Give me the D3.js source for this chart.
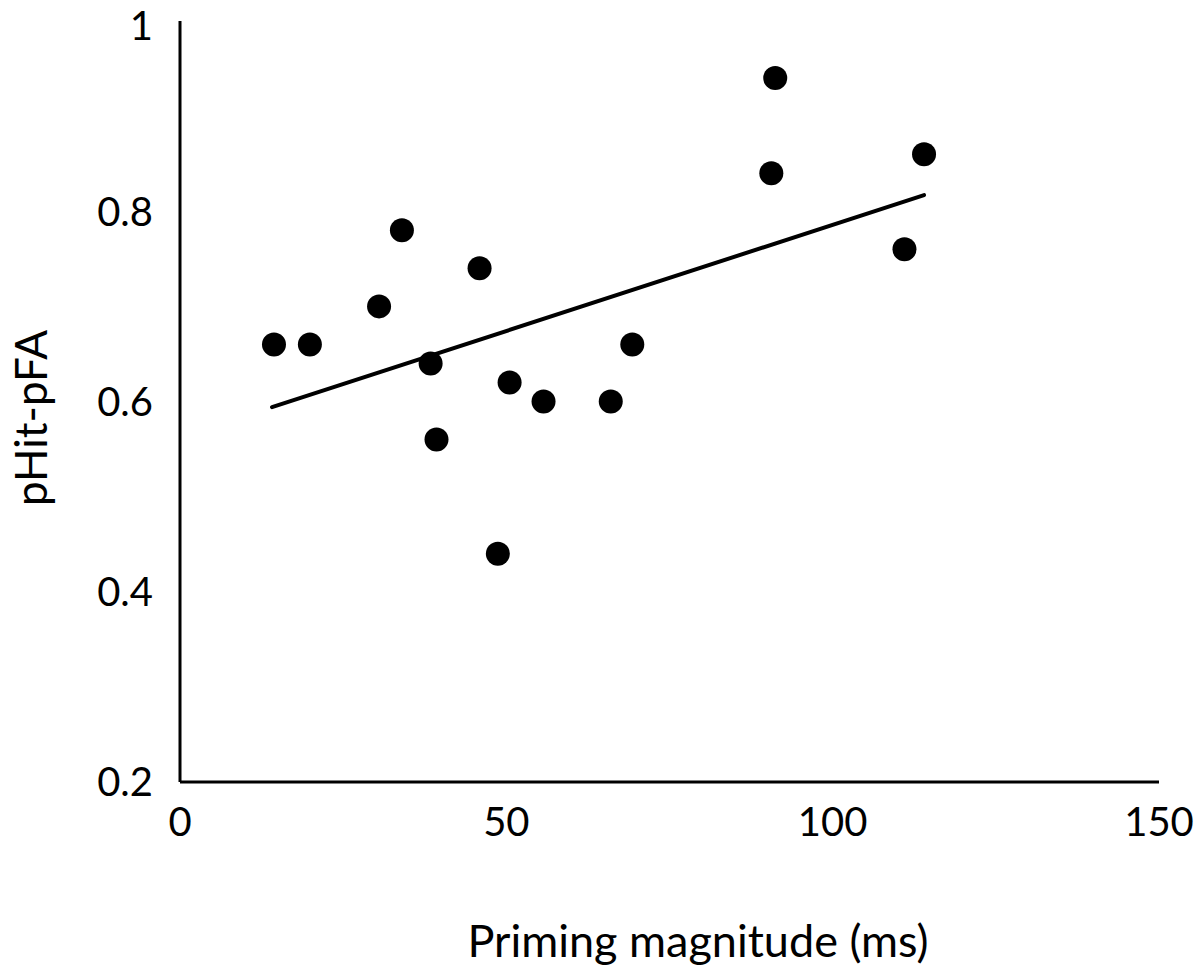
<!DOCTYPE html>
<html><head><meta charset="utf-8">
<script src="https://cdn.jsdelivr.net/npm/d3@7"></script>
<style>body{margin:0;background:#fff}</style>
</head><body>
<svg id="c" width="1200" height="967"></svg>
<script>
const primingMs = [14.4, 19.9, 30.5, 34.0, 38.4, 39.3, 45.9, 48.7, 50.5, 55.7, 66.0, 69.3, 90.6, 91.2, 111.0, 114.0];
const pHitPFA   = [0.66, 0.66, 0.70, 0.78, 0.64, 0.56, 0.74, 0.44, 0.62, 0.60, 0.60, 0.66, 0.84, 0.94, 0.76, 0.86];
const trendX = [14.1, 114.0];
const trendY = [0.594, 0.817];
const xTicks = [0, 50, 100, 150];
const yTicks = [0.2, 0.4, 0.6, 0.8, 1];
const yTickLabels = ["0.2", "0.4", "0.6", "0.8", "1"];

const svg = d3.select("#c");
const font = "Lato, 'Open Sans', sans-serif";
const x = d3.scaleLinear().domain([0, 150]).range([180, 1159]);
const y = d3.scaleLinear().domain([0.2, 1]).range([782, 21]);

// axes lines
svg.append("line").attr("x1", x(0)).attr("x2", x(0)).attr("y1", y(1)).attr("y2", y(0.2))
  .attr("stroke", "#000").attr("stroke-width", 3);
svg.append("line").attr("x1", x(0)).attr("x2", x(150)).attr("y1", y(0.2)).attr("y2", y(0.2))
  .attr("stroke", "#000").attr("stroke-width", 3);

// y tick labels
const yl = svg.append("g").selectAll("text").data(yTicks).join("text")
  .attr("x", 153).attr("y", d => y(d)).attr("dy", "0.36em")
  .attr("text-anchor", "end").attr("font-family", font).attr("font-size", 40)
  .text((d, i) => yTickLabels[i]);
// keep the top label's box inside the picture
yl.each(function() {
  const b = this.getBBox();
  if (b.y < 0) d3.select(this).attr("y", +d3.select(this).attr("y") - b.y + 1);
});

// x tick labels
svg.append("g").selectAll("text").data(xTicks).join("text")
  .attr("x", d => x(d)).attr("y", 836)
  .attr("text-anchor", "middle").attr("font-family", font).attr("font-size", 40)
  .text(d => d);

// trend line
svg.append("line").attr("x1", x(trendX[0])).attr("x2", x(trendX[1]))
  .attr("y1", y(trendY[0])).attr("y2", y(trendY[1]))
  .attr("stroke", "#000").attr("stroke-width", 4).attr("stroke-linecap", "round");

// points
svg.append("g").selectAll("circle").data(primingMs).join("circle")
  .attr("cx", d => x(d)).attr("cy", (d, i) => y(pHitPFA[i])).attr("r", 12).attr("fill", "#000");

// axis titles
svg.append("text").attr("x", 698).attr("y", 957).attr("text-anchor", "middle")
  .attr("font-family", font).attr("font-size", 45).text("Priming magnitude (ms)");
svg.append("text").attr("transform", "translate(47,418) rotate(-90)").attr("text-anchor", "middle")
  .attr("font-family", font).attr("font-size", 44).text("pHit-pFA");
</script>
</body></html>
